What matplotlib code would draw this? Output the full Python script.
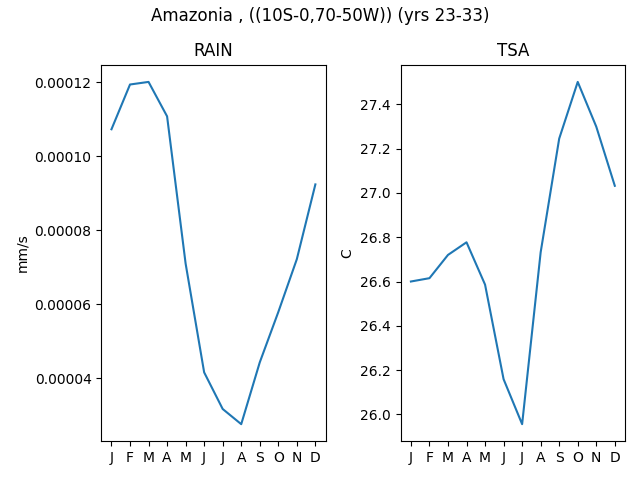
import matplotlib
matplotlib.use("Agg")
from matplotlib import pyplot as plt

months = ['J', 'F', 'M', 'A', 'M', 'J', 'J', 'A', 'S', 'O', 'N', 'D']

# monthly climatology
rain = [0.0001073, 0.0001194, 0.0001201, 0.0001108, 0.0000710, 0.0000416,
        0.0000317, 0.0000276, 0.0000443, 0.0000579, 0.0000722, 0.0000924]
tsa = [26.600, 26.615, 26.720, 26.777, 26.586, 26.159,
       25.956, 26.732, 27.245, 27.501, 27.299, 27.032]


def plot_panel(ax, values, title, ylabel):
    x = range(len(months))
    ax.plot(x, values)
    ax.set_xticks(list(x))
    ax.set_xticklabels(months)
    ax.set_title(title)
    ax.set_ylabel(ylabel)


fig, (ax1, ax2) = plt.subplots(1, 2, figsize=(6.4, 4.8), dpi=100)
plot_panel(ax1, rain, "RAIN", "mm/s")
plot_panel(ax2, tsa, "TSA", "C")
fig.suptitle("Amazonia , ((10S-0,70-50W)) (yrs 23-33)", y=0.985)
fig.tight_layout()
fig.subplots_adjust(top=0.865)

fig.savefig("out.png")
